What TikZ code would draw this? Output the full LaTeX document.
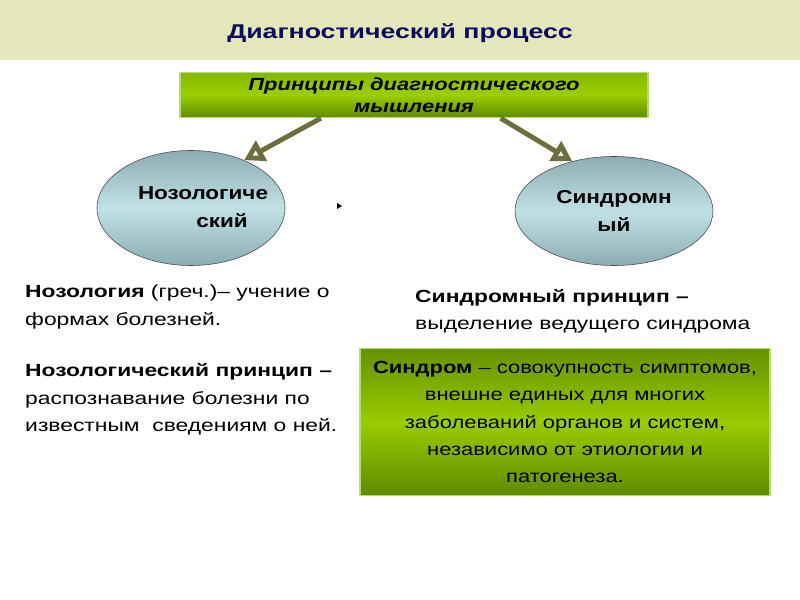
\documentclass[tikz,border=0pt]{standalone}
\usepackage{fontspec}
\setmainfont{Liberation Sans}
\newfontfamily\titlefont[FakeStretch=1.34]{Liberation Sans}
\newfontfamily\bodyfont[FakeStretch=1.3]{Liberation Sans}
\newfontfamily\boxfont[FakeStretch=1.25]{Liberation Sans}
\newfontfamily\ovalfont[FakeStretch=1.2]{Liberation Sans}
\usetikzlibrary{arrows.meta,positioning,shapes.geometric}

\definecolor{headband}{HTML}{E4E6BB}
\definecolor{titleblue}{HTML}{0B0B5C}
\definecolor{greenlight}{HTML}{9CCF00}
\definecolor{greenmid}{HTML}{84B800}
\definecolor{greendark}{HTML}{5E8A00}
\definecolor{greenedge}{HTML}{B4E06A}
\definecolor{ovaldark}{HTML}{8CACB3}
\definecolor{ovallight}{HTML}{C0E1E5}
\definecolor{arrowolive}{HTML}{6E6E3C}

\tikzset{
  titletext/.style={font=\titlefont\fontsize{17}{20}\selectfont\bfseries, text=titleblue},
  principbox/.style={draw=greenedge, line width=1.2pt, minimum width=14.04cm,
    minimum height=1.35cm, inner sep=0pt, align=center,
    top color=greenmid, bottom color=greendark, middle color=greenlight,
    font=\boxfont\fontsize{15}{19}\selectfont\bfseries\itshape},
  oval/.style={ellipse, draw=black!70, line width=0.5pt, inner sep=0pt,
    top color=ovaldark, bottom color=ovaldark, middle color=ovallight,
    font=\ovalfont\fontsize{16}{24}\selectfont\bfseries},
  principarrow/.style={draw=arrowolive, line width=4.2pt,
    -{Triangle[open, fill=white, length=17pt, width=19pt]}},
  bodytext/.style={align=left, inner sep=0pt, anchor=north west,
    font=\bodyfont\fontsize{15}{23.2}\selectfont},
  defbox/.style={draw=greenedge, line width=1.2pt, minimum width=12.3cm,
    minimum height=4.41cm, inner sep=0pt, align=center,
    top color=greendark!85!greenmid, bottom color=greendark, middle color=greenlight!90!greenmid,
    font=\boxfont\fontsize{15}{23.3}\selectfont}
}

\begin{document}
\begin{tikzpicture}[x=0.03cm, y=-0.03cm]
\useasboundingbox (0,0) rectangle (800,600);

% Шапка
	\fill[headband] (0,0) rectangle (800,60);
	\node[titletext] (title) at (400,33) {Диагностический процесс};

% Принципы и два подхода
	\node[principbox] (princip) at (414,95) {Принципы диагностического\\мышления};

	\node[oval, minimum width=5.64cm, minimum height=3.45cm] (nozo) at (191,208)
		{\makebox[3cm][c]{\hspace*{0.72cm}\begin{tabular}{@{}l@{}}Нозологиче\\\hspace*{1.75cm}ский\end{tabular}}};
	\node[oval, minimum width=5.94cm, minimum height=3.27cm, align=center] (sindr) at (614,211)
		{Синдромн\\ый};

	\draw[principarrow] (princip.194) -- (nozo.42);
	\draw[principarrow] (princip.-15) -- (sindr.130);

	\fill (337,203) -- (342,206) -- (337,209) -- cycle;

% Пояснения
	\node[bodytext] (nozotext) at (25,285)
		{\textbf{Нозология} (греч.)– учение о\\
		 формах болезней.\\[21pt]
		 \textbf{Нозологический принцип –}\\
		 распознавание болезни по\\
		 известным\ \ сведениям о ней.};

	\node[bodytext] (sindrtext) at (415,289)
		{\textbf{Синдромный принцип –}\\
		 выделение ведущего синдрома};

	\node[defbox] (sindrdef) at (565,422)
		{\textbf{Синдром} – совокупность симптомов,\\
		 внешне единых для многих\\
		 заболеваний органов и систем,\\
		 независимо от этиологии и\\
		 патогенеза.};
\end{tikzpicture}
\end{document}
